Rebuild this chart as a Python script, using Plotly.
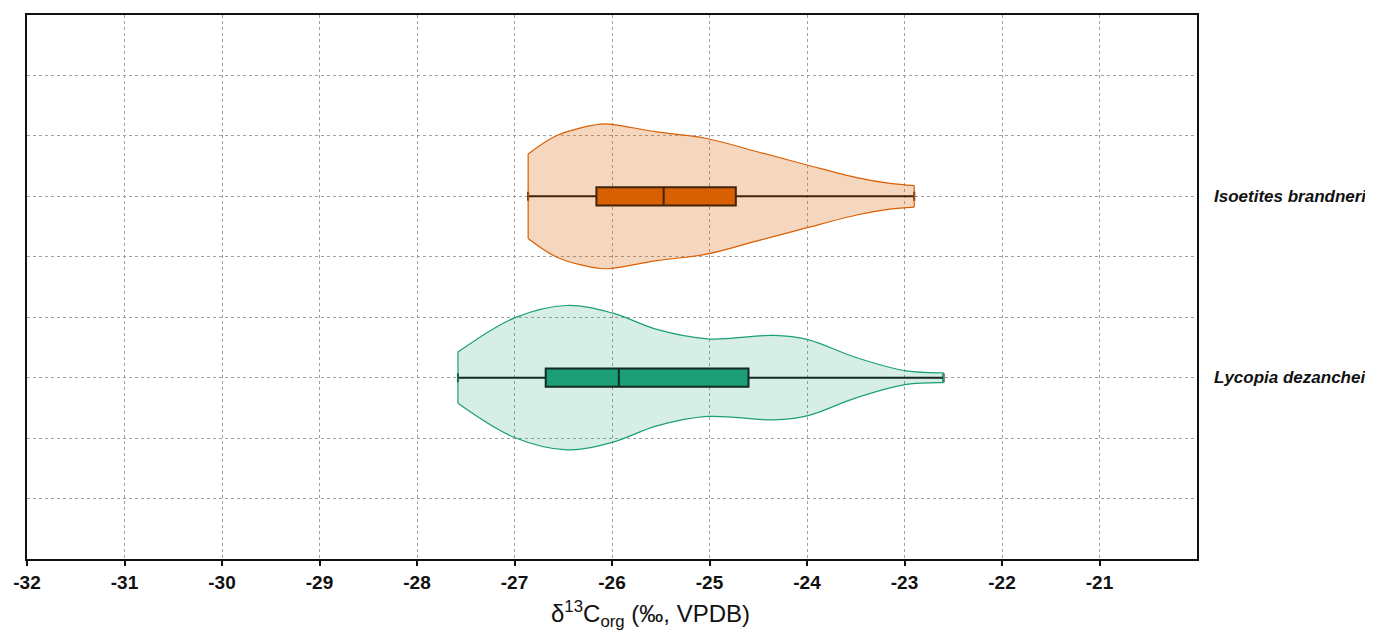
import plotly.graph_objects as go

# ---- data ----
species = ["Lycopia dezanchei", "Isoetites brandneri"]
positions = [0, 1]
colors = ["#1B9E77", "#D95F02"]
fills = ["rgba(27,158,119,0.18)", "rgba(217,95,2,0.25)"]

# box statistics (min, q1, median, q3, max)
lyc_stats = [-27.58, -26.68, -25.93, -24.60, -22.60]
iso_stats = [-26.86, -26.16, -25.47, -24.73, -22.90]

# violin density profiles: x positions and half widths (y units)
lyc_x = [-27.58, -27.0, -26.46, -26.0, -25.54, -25.02, -24.34, -24.0, -23.49, -22.98, -22.60]
lyc_hw = [0.141, 0.330, 0.398, 0.357, 0.266, 0.214, 0.233, 0.211, 0.110, 0.037, 0.027]
iso_x = [-26.86, -26.56, -26.12, -26.0, -25.54, -25.03, -24.51, -24.0, -23.49, -23.15, -22.90]
iso_hw = [0.233, 0.337, 0.398, 0.397, 0.355, 0.319, 0.246, 0.173, 0.103, 0.071, 0.059]

x_ticks = list(range(-32, -20))
x_ticktext = [f"-{abs(v)}" for v in x_ticks]

FONT = "Liberation Sans, Arial, sans-serif"

fig = go.Figure()

profiles = [(lyc_x, lyc_hw), (iso_x, iso_hw)]
stats = [lyc_stats, iso_stats]

for i, (xs, hws) in enumerate(profiles):
    pos = positions[i]
    upper = [pos + h for h in hws]
    lower = [pos - h for h in hws]
    fig.add_trace(go.Scatter(x=xs, y=upper, mode="lines",
                             line=dict(color=colors[i], width=1.2, shape="spline", smoothing=1.0),
                             hoverinfo="skip", showlegend=False))
    fig.add_trace(go.Scatter(x=xs, y=lower, mode="lines", fill="tonexty", fillcolor=fills[i],
                             line=dict(color=colors[i], width=1.2, shape="spline", smoothing=1.0),
                             hoverinfo="skip", showlegend=False))
    # flat ends of the violin
    fig.add_trace(go.Scatter(x=[xs[0], xs[0], None, xs[-1], xs[-1]],
                             y=[lower[0], upper[0], None, lower[-1], upper[-1]],
                             mode="lines", line=dict(color=colors[i], width=1.2),
                             hoverinfo="skip", showlegend=False))

for i, st in enumerate(stats):
    fig.add_trace(go.Box(
        y=[positions[i]], orientation="h",
        lowerfence=[st[0]], q1=[st[1]], median=[st[2]], q3=[st[3]], upperfence=[st[4]],
        width=0.1, whiskerwidth=0.5,
        fillcolor=colors[i], line=dict(color="#111111", width=2),
        boxpoints=False, showlegend=False, name=species[i]))

for i, name in enumerate(species):
    fig.add_annotation(x=1, xref="paper", xshift=15, xanchor="left",
                       y=positions[i], yref="y", yanchor="middle",
                       text=f"<b><i>{name}</i></b>", showarrow=False,
                       font=dict(family=FONT, size=17, color="#111111"))

fig.add_annotation(x=0.533, xref="paper", y=0, yref="paper", yanchor="top", yshift=-36,
                   text="δ<sup>13</sup>C<sub>org</sub> (‰, VPDB)", showarrow=False,
                   font=dict(family=FONT, size=24, color="#111111"))

fig.update_layout(
    width=1365, height=626,
    margin=dict(l=17, r=176, t=5, b=75),
    paper_bgcolor="white", plot_bgcolor="white",
    xaxis=dict(range=[-32, -20], tickvals=x_ticks, ticktext=x_ticktext,
               showgrid=True, gridcolor="#a0a0a0", gridwidth=1, griddash="dot",
               ticks="outside", ticklen=5, tickwidth=2, tickcolor="#111111",
               showline=True, linecolor="#111111", linewidth=1.5, mirror=True,
               zeroline=False,
               tickfont=dict(family=FONT, size=19, color="#111111", weight="bold")),
    yaxis=dict(range=[-1, 2], tick0=-1, dtick=1/3, showticklabels=False,
               showgrid=True, gridcolor="#a0a0a0", gridwidth=1, griddash="dot",
               ticks="", showline=True, linecolor="#111111", linewidth=1.5, mirror=True,
               zeroline=False),
)

fig.write_html("out.html")
